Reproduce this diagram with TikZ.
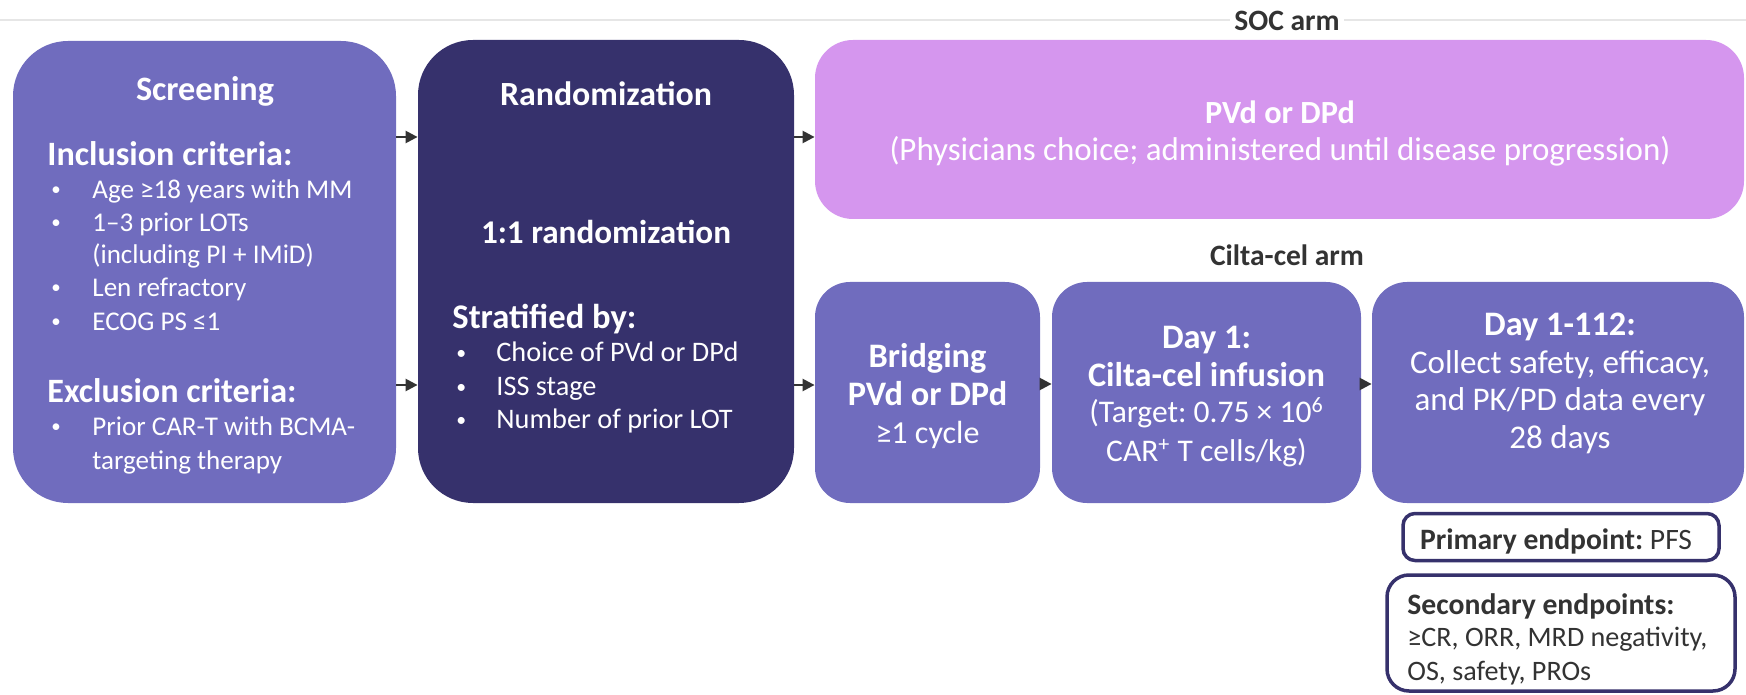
\documentclass[tikz,border=0pt]{standalone}
\usepackage{fontspec}
\usepackage{graphicx}
\setmainfont{Carlito}
\usetikzlibrary{arrows.meta}
\definecolor{midp}{HTML}{706CBE}
\definecolor{darkp}{HTML}{36316C}
\definecolor{lilac}{HTML}{D596EE}
\definecolor{txtgray}{HTML}{333333}
\definecolor{rulegray}{HTML}{E6E6E6}
\newlength\mw
% #1 name, #2 target width in px (1px = 0.5pt), #3 weight switch, #4 sample text
\newcommand\mkfont[4]{%
  \settowidth\mw{\fontsize{10}{12}\selectfont#3#4}%
  \pgfmathsetmacro\tmpsz{5*#2/\mw}%
  \expandafter\xdef\csname #1\endcsname{\noexpand\fontsize{\tmpsz}{\tmpsz}\noexpand\selectfont\noexpand#3}}
\newcommand\bul[1]{\makebox[20.5pt][l]{\raisebox{0.1em}{\scalebox{0.7}{•}}}#1}
\newcommand\cnt[1]{\hspace*{20.5pt}#1}
\newcommand\lnstrut{\vrule width 0pt height 0.85em depth 0.22em\relax}
\begin{document}
\frenchspacing
\mkfont{fScrT}{138}{\bfseries}{Screening}
\mkfont{fHead}{245}{\bfseries}{Inclusion criteria:}
\mkfont{fScrB}{260}{\mdseries}{Age ≥18 years with MM}
\mkfont{fRndT}{212}{\bfseries}{Randomization}
\mkfont{fROne}{250}{\bfseries}{1:1 randomization}
\mkfont{fStr}{184}{\bfseries}{Stratified by:}
\mkfont{fRndB}{242}{\mdseries}{Choice of PVd or DPd}
\mkfont{fSocT}{150}{\bfseries}{PVd or DPd}
\mkfont{fSocB}{781}{\mdseries}{(Physicians choice; administered until disease progression)}
\mkfont{fCT}{237}{\bfseries}{Cilta-cel infusion}
\mkfont{fBrgB}{104}{\mdseries}{≥1 cycle}
\mkfont{fDayB}{235}{\mdseries}{(Target: 0.75 × 10\textsuperscript{6}}
\mkfont{fLongB}{300}{\mdseries}{Collect safety, efficacy,}
\mkfont{fArm}{154}{\bfseries}{Cilta-cel arm}
\mkfont{fEnd}{300}{\mdseries}{≥CR, ORR, MRD negativity,}
\mkfont{fEndB}{267}{\bfseries}{Secondary endpoints:}
\mkfont{fPrim}{272}{\mdseries}{\textbf{Primary endpoint:} PFS}
\begin{tikzpicture}[x=0.5pt,y=-0.5pt,
  bigbox/.style={inner sep=0pt, rounded corners=27.5pt, minimum width=#1},
  soft/.style={inner sep=0pt, rounded corners=17.5pt, minimum height=110.5pt, fill=midp, minimum width=#1},
  endbox/.style={draw=darkp, line width=1.75pt, fill=white, inner sep=0pt},
  ln/.style={inner sep=0pt, execute at begin node=\lnstrut},
  wt/.style={ln, text=white},
  gt/.style={ln, text=txtgray},
  arr/.style={draw=txtgray, line width=1.2pt, -{Triangle[length=6pt,width=6pt]}}]
\useasboundingbox (0,0) rectangle (1746,695);
\draw[rulegray, line width=0.75pt] (0,20) -- (1746,20);

% boxes
\node[bigbox=191.5pt, minimum height=231pt, fill=midp] (scr) at (204.5,272) {};
\node[bigbox=188pt, minimum height=231.5pt, fill=darkp] (rnd) at (606,271.5) {};
\node[inner sep=0pt, rounded corners=19pt, minimum width=464.5pt, minimum height=89.5pt, fill=lilac] (soc) at (1279.5,129.5) {};
\node[soft=112.5pt] (brg) at (927.5,392.5) {};
\node[soft=154.5pt] (day1) at (1206.5,392.5) {};
\node[soft=186pt] (day112) at (1558,392.5) {};
\node[endbox, rounded corners=6pt, minimum width=158pt, minimum height=23.5pt] (prim) at (1561,537) {};
\node[endbox, rounded corners=11pt, minimum width=174pt, minimum height=58pt] (sec) at (1561,633) {};

% arm labels
\node[gt, font=\fArm, fill=white, inner xsep=2pt] (socl) at (1287,21) {SOC arm};
\node[gt, font=\fArm] (cill) at (1287,256) {Cilta-cel arm};

% screening text
\node[wt, font=\fScrT] (scrT) at (205,90) {Screening};
\node[wt, font=\fHead, anchor=west] (inc) at (47,155) {Inclusion criteria:};
\node[wt, font=\fScrB, anchor=west] (i1) at (51,190) {\bul{Age ≥18 years with MM}};
\node[wt, font=\fScrB, anchor=west] (i2) at (51,223) {\bul{1–3 prior LOTs}};
\node[wt, font=\fScrB, anchor=west] (i3) at (51,255) {\cnt{(including PI + IMiD)}};
\node[wt, font=\fScrB, anchor=west] (i4) at (51,288) {\bul{Len refractory}};
\node[wt, font=\fScrB, anchor=west] (i5) at (51,322) {\bul{ECOG PS ≤1}};
\node[wt, font=\fHead, anchor=west] (exc) at (47,392) {Exclusion criteria:};
\node[wt, font=\fScrB, anchor=west] (e1) at (51,427) {\bul{Prior CAR-T with BCMA-}};
\node[wt, font=\fScrB, anchor=west] (e2) at (51,461) {\cnt{targeting therapy}};

% randomization text
\node[wt, font=\fRndT] (rndT) at (606,95) {Randomization};
\node[wt, font=\fROne] (r11) at (606,233) {1:1 randomization};
\node[wt, font=\fStr, anchor=west] (str) at (452,318) {Stratified by:};
\node[wt, font=\fRndB, anchor=west] (s1) at (456,353) {\makebox[20pt][l]{\raisebox{0.1em}{\scalebox{0.7}{•}}}Choice of PVd or DPd};
\node[wt, font=\fRndB, anchor=west] (s2) at (456,387) {\makebox[20pt][l]{\raisebox{0.1em}{\scalebox{0.7}{•}}}ISS stage};
\node[wt, font=\fRndB, anchor=west] (s3) at (456,420) {\makebox[20pt][l]{\raisebox{0.1em}{\scalebox{0.7}{•}}}Number of prior LOT};

% SOC text
\node[wt, font=\fSocT] (socT) at (1280,113) {PVd or DPd};
\node[wt, font=\fSocB] (socS) at (1280,150) {(Physicians choice; administered until disease progression)};

% bridging
\node[wt, font=\fCT] (b1) at (927.5,357) {Bridging};
\node[wt, font=\fCT] (b2) at (927.5,395) {PVd or DPd};
\node[wt, font=\fBrgB] (b3) at (927.5,433) {≥1 cycle};

% day 1
\node[wt, font=\fCT] (d1) at (1206.5,338) {Day 1:};
\node[wt, font=\fCT] (d2) at (1206.5,376) {Cilta-cel infusion};
\node[wt, font=\fDayB] (d3) at (1206.5,413) {(Target: 0.75 × 10\textsuperscript{6}};
\node[wt, font=\fDayB] (d4) at (1206.5,452) {CAR\textsuperscript{+} T cells/kg)};

% day 1-112
\node[wt, font=\fCT] (f1) at (1560,325) {Day 1-112:};
\node[wt, font=\fLongB] (f2) at (1560,363) {Collect safety, efficacy,};
\node[wt, font=\fLongB] (f3) at (1560,400) {and PK/PD data every};
\node[wt, font=\fLongB] (f4) at (1560,438) {28 days};

% endpoints
\node[gt, font=\fPrim] (pT) at (1556,540) {\textbf{Primary endpoint:} PFS};
\node[gt, font=\fEndB, anchor=west] (sT) at (1407,605) {Secondary endpoints:};
\node[gt, font=\fEnd, anchor=west] (sA) at (1407,638) {≥CR, ORR, MRD negativity,};
\node[gt, font=\fEnd, anchor=west] (sB) at (1407,672) {OS, safety, PROs};

% arrows
\coordinate (yTop) at (0,137);
\coordinate (yBot) at (0,385);
\coordinate (yArm) at (0,384);
\draw[arr] (scr.east |- yTop) -- (rnd.west |- yTop);
\draw[arr] (scr.east |- yBot) -- (rnd.west |- yBot);
\draw[arr] (rnd.east |- yTop) -- (soc.west |- yTop);
\draw[arr] (rnd.east |- yBot) -- (brg.west |- yBot);
\draw[arr] (brg.east |- yArm) -- (day1.west |- yArm);
\draw[arr] (day1.east |- yArm) -- (day112.west |- yArm);
\end{tikzpicture}
\end{document}
